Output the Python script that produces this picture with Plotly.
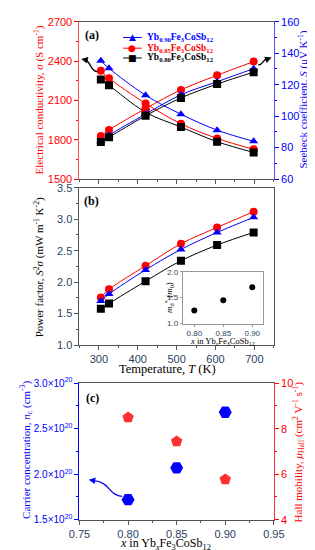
import plotly.graph_objects as go

W, H = 315, 550
def px(x): return x / W
def py(y): return 1 - y / H

# ---------------- data ----------------
T = [305, 326, 420, 511, 604, 698]
sigma_090 = [2402, 2345, 2140, 1995, 1873, 1788]
sigma_085 = [2327, 2270, 2077, 1922, 1810, 1727]
sigma_080 = [2260, 2215, 2010, 1897, 1785, 1703]
S_090 = [84.0, 87.8, 101.3, 113.6, 121.9, 130.2]
S_085 = [87.3, 91.2, 104.8, 116.7, 126.0, 134.7]
S_080 = [83.5, 86.6, 100.2, 111.6, 120.4, 128.0]
PF_090 = [1.70, 1.81, 2.195, 2.52, 2.79, 3.03]
PF_085 = [1.756, 1.885, 2.26, 2.61, 2.87, 3.12]
PF_080 = [1.575, 1.66, 2.015, 2.34, 2.59, 2.79]
x_comp = [0.80, 0.85, 0.90]
md_star = [1.25, 1.45, 1.70]
n_c = [1.72e20, 2.07e20, 2.68e20]
mu_hall = [8.49, 7.44, 5.77]
n_ticks = [1.5e20, 2.0e20, 2.5e20, 3.0e20]
n_ticktext = ["1.5×10<sup>20</sup>", "2.0×10<sup>20</sup>", "2.5×10<sup>20</sup>", "3.0×10<sup>20</sup>"]

RED = "#ff0000"
BLUE = "#0000ff"
BLACK = "#000000"
SERIF = "Liberation Serif"
SANS = "Liberation Sans"
GREY = "#555555"

series = [
    ("0.85", sigma_085, S_085, PF_085, RED, "circle"),
    ("0.90", sigma_090, S_090, PF_090, BLUE, "triangle-up"),
    ("0.80", sigma_080, S_080, PF_080, BLACK, "square"),
]

fig = go.Figure()
for name, sg, s, pf, col, sym in series:
    fig.add_trace(go.Scatter(x=T, y=sg, xaxis="x2", yaxis="y", mode="lines+markers",
                             line=dict(color=col, width=1, shape="spline"),
                             marker=dict(color=col, symbol=sym, size=8), showlegend=False))
    fig.add_trace(go.Scatter(x=T, y=s, xaxis="x2", yaxis="y2", mode="lines+markers",
                             line=dict(color=col, width=1, shape="spline"),
                             marker=dict(color=col, symbol=sym, size=8), showlegend=False))
    fig.add_trace(go.Scatter(x=T, y=pf, xaxis="x", yaxis="y3", mode="lines+markers",
                             line=dict(color=col, width=1, shape="spline"),
                             marker=dict(color=col, symbol=sym, size=8), showlegend=False))

fig.add_trace(go.Scatter(x=x_comp, y=md_star, xaxis="x4", yaxis="y6", mode="markers",
                         marker=dict(color=BLACK, size=6), showlegend=False))
fig.add_trace(go.Scatter(x=x_comp, y=n_c, xaxis="x3", yaxis="y4", mode="markers",
                         marker=dict(color=BLUE, symbol="hexagon2", size=13), showlegend=False))
fig.add_trace(go.Scatter(x=x_comp, y=mu_hall, xaxis="x3", yaxis="y5", mode="markers",
                         marker=dict(color="#ff3030", symbol="pentagon", size=12), showlegend=False))

tickf = dict(family=SANS, size=11)
dx = [px(65), px(274)]
dom_a = [py(168), py(7)]
dom_b = [py(338), py(177)]
dom_c = [py(517), py(377)]

def yax(**kw):
    d = dict(showline=True, linewidth=1, ticks="outside", ticklen=4, tickwidth=1,
             showgrid=False, zeroline=False)
    d.update(kw)
    return d

fig.update_layout(
    width=W, height=H, margin=dict(l=0, r=0, t=0, b=0),
    paper_bgcolor="white", plot_bgcolor="white", showlegend=False,
    xaxis=dict(domain=dx, anchor="y3", range=[250, 750], dtick=100, tick0=300,
               showline=True, linecolor=GREY, linewidth=1, mirror=True, ticks="outside",
               ticklen=4, tickcolor=GREY, minor=dict(ticks="outside", ticklen=2, dtick=50, tickcolor=GREY),
               showgrid=False, zeroline=False, tickfont=tickf, ticklabelstandoff=0),
    xaxis2=dict(domain=dx, anchor="y", range=[250, 750], dtick=100, tick0=300,
                showline=True, linecolor=GREY, linewidth=1, mirror=True, ticks="outside",
                ticklen=4, tickcolor=GREY, minor=dict(ticks="outside", ticklen=2, dtick=50, tickcolor=GREY),
                showticklabels=False, showgrid=False, zeroline=False),
    xaxis3=dict(domain=dx, anchor="y4", range=[0.75, 0.95], dtick=0.05, tick0=0.75, tickformat=".2f",
                showline=True, linecolor=GREY, linewidth=1, mirror=True, ticks="outside",
                ticklen=4, tickcolor=GREY, minor=dict(ticks="outside", ticklen=2, dtick=0.025, tickcolor=GREY),
                showgrid=False, zeroline=False, tickfont=tickf, ticklabelstandoff=0),
    xaxis4=dict(domain=[px(176), px(262)], anchor="y6", range=[0.78, 0.918],
                tickvals=[0.80, 0.85, 0.90], tickformat=".2f",
                showline=True, linecolor="#999999", linewidth=1, mirror=True, ticks="outside",
                ticklen=2, tickcolor="#999999", showgrid=False, zeroline=False,
                tickfont=dict(family=SANS, size=8), ticklabelstandoff=0),
    yaxis=yax(domain=dom_a, anchor="x2", range=[1500, 2700], dtick=300, linecolor="#ff5050",
              tickcolor=RED, tickfont=dict(family=SANS, size=11, color=RED),
              minor=dict(ticks="outside", ticklen=2, dtick=150, tickcolor=RED)),
    yaxis2=yax(overlaying="y", anchor="x2", side="right", range=[60, 160], dtick=20,
               linecolor="#5050ff", tickcolor=BLUE, tickfont=dict(family=SANS, size=11, color=BLUE),
               minor=dict(ticks="outside", ticklen=2, dtick=10, tickcolor=BLUE)),
    yaxis3=yax(domain=dom_b, anchor="x", range=[1.0, 3.5], dtick=0.5, tickformat=".1f",
               linecolor=GREY, mirror=True, tickcolor=GREY, tickfont=tickf,
               minor=dict(ticks="outside", ticklen=2, dtick=0.25, tickcolor=GREY)),
    yaxis4=yax(domain=dom_c, anchor="x3", range=[1.5e20, 3.0e20], tickmode="array",
               tickvals=n_ticks, ticktext=n_ticktext, linecolor=BLUE, tickcolor=BLUE,
               tickfont=dict(family=SANS, size=10, color=BLUE),
               minor=dict(ticks="outside", ticklen=2, tickmode="linear", tick0=1.5e20, dtick=0.25e20, tickcolor=BLUE)),
    yaxis5=yax(overlaying="y4", anchor="x3", side="right", range=[4, 10], dtick=2,
               linecolor="#ff3030", tickcolor=RED, tickfont=dict(family=SANS, size=11, color=RED),
               minor=dict(ticks="outside", ticklen=2, dtick=1, tickcolor=RED)),
    yaxis6=yax(domain=[py(316), py(263)], anchor="x4", range=[1.0, 2.0], tickvals=[1.0, 1.5, 2.0],
               tickformat=".1f", linecolor="#999999", mirror=True, ticklen=2, tickcolor="#999999",
               tickfont=dict(family=SANS, size=8), ticklabelstandoff=0),
)

ann = []
def text(x, y, t, size=11, color=BLACK, angle=0, family=SERIF, xanchor="center"):
    ann.append(dict(x=px(x), y=py(y), xref="paper", yref="paper", text=t, showarrow=False,
                    textangle=angle, font=dict(family=family, size=size, color=color),
                    xanchor=xanchor, yanchor="middle"))

text(22, 87, "Electrical conductivity, <i>σ</i> (S cm<sup>-1</sup>)", 11, RED, -90)
text(306, 87, "Seebeck coefficient, <i>S</i> (μV K<sup>-1</sup>)", 11, BLUE, -90)
text(22, 258, "Power factor, <i>S</i><sup>2</sup><i>σ</i> (mW m<sup>-1</sup> K<sup>-2</sup>)", 11, BLACK, -90)
text(160, 363, "Temperature, <i>T</i> (K)", 12.5)
text(8, 445, "Carrier concentration, <i>n</i><sub>c</sub> (cm<sup>-3</sup>)", 11, BLUE, -90)
text(301, 447, "Hall mobility, <i>μ</i><sub>Hall</sub> (cm<sup>2</sup> V<sup>-1</sup> s<sup>-1</sup>)", 11, RED, -90)
text(157, 542, "<i>x</i> in Yb<sub><i>x</i></sub>Fe<sub>3</sub>CoSb<sub>12</sub>", 12)
text(161, 289, "<i>m</i><sub>d</sub><sup>*</sup> (<i>m</i><sub>0</sub>)", 9, BLACK, -90)
text(219, 334, "<i>x</i> in Yb<sub><i>x</i></sub>Fe<sub>3</sub>CoSb<sub>12</sub>", 8.5)
text(79, 20, "<b>(a)</b>", 12)
text(78, 190, "<b>(b)</b>", 12)
text(79, 392, "<b>(c)</b>", 12)

# legend (manual)
legend_rows = [(23, BLUE, "▲", "0.90"), (34, RED, "●", "0.85"), (44, BLACK, "■", "0.80")]
shapes = []
for yy, col, glyph, frac in legend_rows:
    shapes.append(dict(type="line", xref="paper", yref="paper", x0=px(112), x1=px(132),
                       y0=py(yy), y1=py(yy), line=dict(color=col, width=1)))
    text(122, yy, glyph, 9, col, 0, "DejaVu Sans")
    text(135, yy, "<b>Yb<sub>%s</sub>Fe<sub>3</sub>CoSb<sub>12</sub></b>" % frac, 9.5, col, 0, SERIF, "left")

def curve(pts, col):
    (x0, y0), (x1, y1), (x2, y2), (x3, y3) = pts
    path = "M %f,%f C %f,%f %f,%f %f,%f" % (px(x0), py(y0), px(x1), py(y1), px(x2), py(y2), px(x3), py(y3))
    shapes.append(dict(type="path", xref="paper", yref="paper", path=path, line=dict(color=col, width=1.3)))

def head(x, y, ax, ay, col):
    ann.append(dict(x=px(x), y=py(y), xref="paper", yref="paper", text="", showarrow=True,
                    ax=ax, ay=ay, arrowhead=2, arrowsize=1, arrowwidth=1.3, arrowcolor=col))

curve([(84, 58), (77, 58), (77, 47), (71, 46)], BLACK)
head(67, 45, 5, 1, BLACK)
curve([(257, 51), (262, 52), (262, 45), (267, 45)], BLACK)
head(271.5, 43.5, -5, 2, BLACK)
curve([(111, 493), (96, 492), (98, 478), (80, 477)], BLUE)
head(75, 476, 6, 1, BLUE)

fig.update_layout(annotations=ann, shapes=shapes)
fig.write_html("out.html")
